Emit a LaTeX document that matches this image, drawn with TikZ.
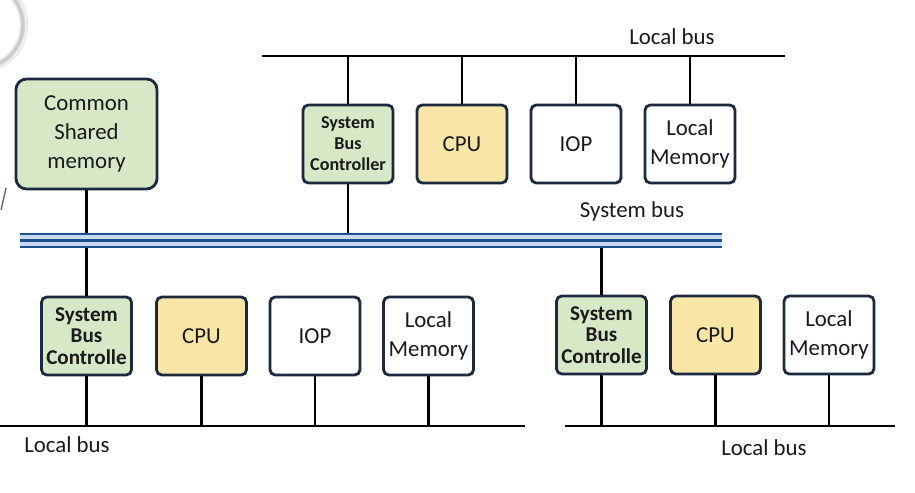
\documentclass[tikz,border=0pt]{standalone}
\usepackage{fontspec}
\setmainfont{Carlito}
\usepackage{tikz}

\definecolor{boxline}{HTML}{1C2A40}
\definecolor{ctrlgreen}{HTML}{D6E8C6}
\definecolor{cpuyellow}{HTML}{F9E6A6}
\definecolor{busdark}{HTML}{1F4E8C}
\definecolor{buslight}{HTML}{C6DAF2}
\definecolor{textblack}{HTML}{1A1A1A}

\begin{document}
\begin{tikzpicture}[font=\fontsize{13}{16.5}\selectfont, text=textblack]
        % Setup the styles for the boxes and lines
        \tikzset{box style/.style={draw=boxline,
                                   line width=1.6pt,
                                   rounded corners=3pt,
                                   minimum width=1.8cm,
                                   minimum height=1.56cm,
                                   inner sep=1pt,
                                   align=center},
                 green style/.style={box style, fill=ctrlgreen},
                 ctrl style/.style={green style, font=\bfseries\fontsize{10.3}{12}\selectfont},
                 cpu style/.style={box style, fill=cpuyellow},
                 plain style/.style={box style, fill=white},
                 wire/.style={line width=1.3pt, draw=black}}

        \useasboundingbox (0,0) rectangle (18.3,9.84);

        % Corner marks
        \draw[gray!15, line width=5pt] (-0.4,9.34) circle (0.88);
        \draw[gray!40, line width=2pt] (-0.4,9.34) circle (0.86);
        \draw[boxline!70, line width=0.8pt] (0.02,5.64) -- (0.12,6.08);

        % Draw the boxes
        \node[green style, minimum width=2.82cm, minimum height=2.2cm, rounded corners=6pt] at (1.73, 7.16) (shared) {Common\\Shared\\memory};

        \node[ctrl style] at (6.96, 6.96) (ctrlA) {System\\Bus\\Controller};
        \node[cpu style] at (9.24, 6.96) (cpuA) {CPU};
        \node[plain style] at (11.52, 6.96) (iopA) {IOP};
        \node[plain style] at (13.80, 6.96) (memA) {Local\\Memory};

        \node[ctrl style, font=\bfseries\fontsize{12}{12.4}\selectfont] at (1.73, 3.12) (ctrlB) {System\\Bus\\Controlle};
        \node[cpu style] at (4.03, 3.12) (cpuB) {CPU};
        \node[plain style] at (6.30, 3.12) (iopB) {IOP};
        \node[plain style] at (8.57, 3.12) (memB) {Local\\Memory};

        \node[ctrl style, font=\bfseries\fontsize{12}{12.4}\selectfont] at (12.03, 3.14) (ctrlC) {System\\Bus\\Controlle};
        \node[cpu style] at (14.31, 3.14) (cpuC) {CPU};
        \node[plain style] at (16.58, 3.14) (memC) {Local\\Memory};

        % Bus end points
        \coordinate (lbusA) at (5.24, 8.72);
        \coordinate (lbusA end) at (15.70, 8.72);
        \coordinate (lbusB) at (0, 1.32);
        \coordinate (lbusB end) at (10.50, 1.32);
        \coordinate (lbusC) at (11.30, 1.32);
        \coordinate (lbusC end) at (17.90, 1.32);
        \coordinate (sysT) at (0.40, 5.16);
        \coordinate (sysT end) at (14.44, 5.16);
        \coordinate (sysM) at (0.40, 5.03);
        \coordinate (sysM end) at (14.44, 5.03);
        \coordinate (sysB) at (0.40, 4.90);
        \coordinate (sysB end) at (14.44, 4.90);

        % Local buses
        \draw[wire, line width=1.4pt] (lbusA) -- (lbusA end);
        \draw[wire, line width=1.4pt] (lbusB) -- (lbusB end);
        \draw[wire, line width=1.4pt] (lbusC) -- (lbusC end);

        % Connect the boxes with the buses
        \draw[wire]
              (ctrlA.north)     edge    (ctrlA.north |- lbusA)
              (cpuA.north)      edge    (cpuA.north |- lbusA)
              (iopA.north)      edge    (iopA.north |- lbusA)
              (memA.north)      edge    (memA.north |- lbusA)
              (ctrlB.south)     edge    (ctrlB.south |- lbusB)
              (cpuB.south)      edge    (cpuB.south |- lbusB)
              (iopB.south)      edge    (iopB.south |- lbusB)
              (memB.south)      edge    (memB.south |- lbusB)
              (ctrlC.south)     edge    (ctrlC.south |- lbusC)
              (cpuC.south)      edge    (cpuC.south |- lbusC)
              (memC.south)      edge    (memC.south |- lbusC)
              (shared.south)    edge    (ctrlB.north)
              (ctrlA.south)     edge    (ctrlA.south |- sysT)
              (ctrlC.north)     edge    (ctrlC.north |- sysB);

        % System bus
        \fill[buslight] (sysB) rectangle (sysT end);
        \draw[busdark, line width=1pt] (sysT) -- (sysT end);
        \draw[busdark, line width=1.8pt] (sysM) -- (sysM end);
        \draw[busdark, line width=1pt] (sysB) -- (sysB end);

        % Bus labels
        \node at (13.44, 9.10) (lbusA label) {Local bus};
        \node at (12.64, 5.62) (sys label) {System bus};
        \node at (1.34, 0.94) (lbusB label) {Local bus};
        \node at (15.28, 0.88) (lbusC label) {Local bus};
\end{tikzpicture}
\end{document}
